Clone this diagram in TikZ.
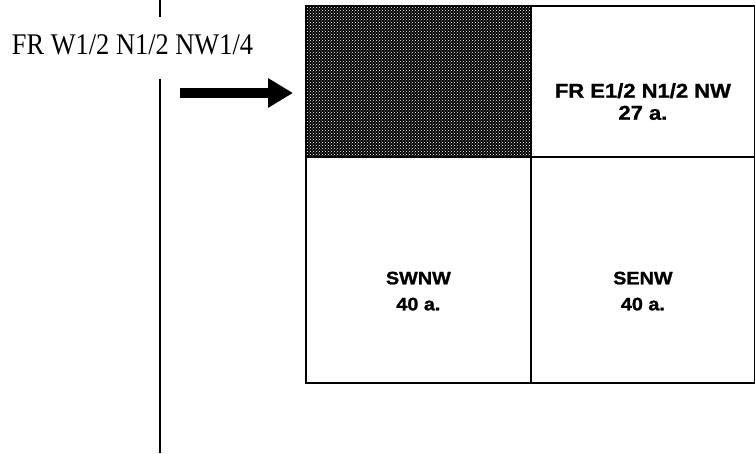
\documentclass[tikz,border=0pt]{standalone}
\usepackage{fontspec}
\usepackage{tikz}
\usetikzlibrary{arrows.meta, positioning, patterns, calc}
\newfontfamily\platfont{Liberation Serif}
\newfontfamily\lotfont{Liberation Sans}[FakeStretch=1.1, BoldFeatures={FakeBold=1.2}]
\tikzset{
  cell/.style={rectangle, draw, line width=1.8pt, anchor=south west, inner sep=0pt},
  shaded/.style={cell, pattern color=white, pattern=crosshatch dots},
  lotlabel/.style={align=center, font=\lotfont\bfseries\fontsize{20}{22}\selectfont},
  lotlabelsm/.style={align=center, font=\lotfont\bfseries\fontsize{18}{26}\selectfont},
  divider/.style={line width=2pt},
  bigarrow/.style={-{Triangle[length=25pt, width=28pt]}, line width=10pt}
}

\begin{document}
\begin{tikzpicture}[x=1pt, y=1pt]
  \useasboundingbox (0,0) rectangle (755,453);

  % Quarter section cells
  \fill[black] (305,295) rectangle (530,446);
  \node[shaded, minimum width=225pt, minimum height=151pt] (nw) at (305,295) {};
  \node[cell, minimum width=224pt, minimum height=151pt] (ne) at (530,295) {};
  \node[cell, minimum width=225pt, minimum height=226pt] (sw) at (305,69) {};
  \node[cell, minimum width=224pt, minimum height=226pt] (se) at (530,69) {};

  % Cell labels
  \node[lotlabel] (nelbl) at ([yshift=-20pt]ne.center) {FR E1/2 N1/2 NW\\27 a.};
  \node[lotlabelsm] (swlbl) at ([yshift=-21pt]sw.center) {SWNW\\40 a.};
  \node[lotlabelsm] (selbl) at ([yshift=-21pt]se.center) {SENW\\40 a.};

  % Margin line and description
  \coordinate (mtop) at (159.5,453);
  \coordinate (mgap1) at (159.5,436);
  \coordinate (mgap2) at (159.5,374);
  \coordinate (mbot) at (159.5,0);
  \draw[divider] (mtop) -- (mgap1);
  \draw[divider] (mgap2) -- (mbot);
  \node[anchor=base, inner sep=0pt] (desc) at (132.5,398)
       {\scalebox{0.88}[1]{\platfont\fontsize{30}{30}\selectfont FR W1/2 N1/2 NW1/4}};

  % Pointer to the shaded cell
  \coordinate (tail) at (180,360);
  \draw[bigarrow, shorten >=12pt] (tail) -- (tail -| nw.west);
\end{tikzpicture}
\end{document}
